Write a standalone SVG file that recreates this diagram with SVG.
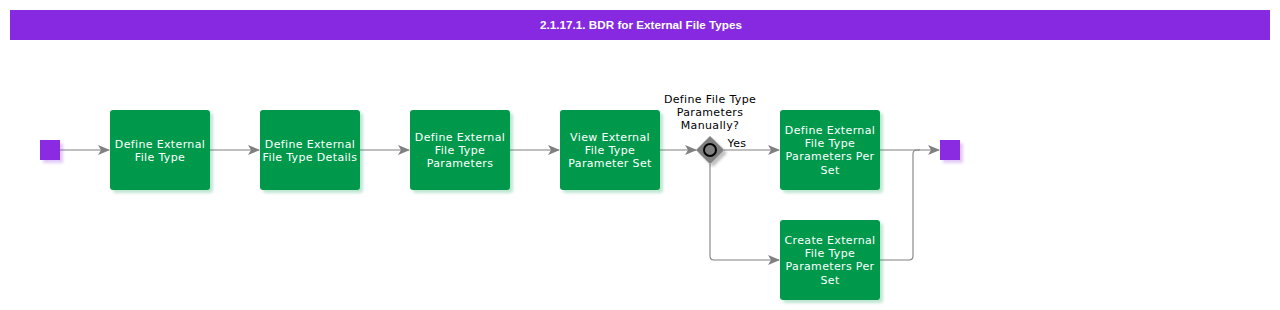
<svg xmlns="http://www.w3.org/2000/svg" width="1280" height="310" viewBox="0 0 1280 310">
<defs>
<style>
.title{font-family:"Liberation Sans",Arial,sans-serif;font-weight:bold;font-size:11.7px;fill:#fff;text-anchor:middle}
.task rect{fill:#00994C}
.task text{font-family:"DejaVu Sans",Verdana,sans-serif;font-size:11px;letter-spacing:0.35px;fill:#fff;text-anchor:middle}
.lbl{font-family:"DejaVu Sans",Verdana,sans-serif;font-size:11px;letter-spacing:0.35px;fill:#000;text-anchor:middle}
.ev rect{fill:#8A2BE2}
.conn path{fill:none;stroke:#808080;stroke-width:1.1}
.shadow{fill:#000;opacity:0.25;filter:url(#blur)}
</style>
<filter id="blur" x="-20%" y="-20%" width="140%" height="140%"><feGaussianBlur stdDeviation="1.5"/></filter>
<marker id="arr" viewBox="0 0 12 10" refX="11" refY="5" markerWidth="12" markerHeight="10" markerUnits="userSpaceOnUse" orient="auto">
<path d="M0,0 L12,5 L0,10 L3,5 Z" fill="#808080"/>
</marker>
</defs>
<rect x="10" y="10" width="1260" height="30" fill="#8629E0"/>
<text class="title" x="641" y="29">2.1.17.1. BDR for External File Types</text>

<g class="conn">
<path d="M60,150 H109" marker-end="url(#arr)"/>
<path d="M210,150 H259" marker-end="url(#arr)"/>
<path d="M360,150 H409" marker-end="url(#arr)"/>
<path d="M510,150 H559" marker-end="url(#arr)"/>
<path d="M660,150 H696" marker-end="url(#arr)"/>
<path d="M724,150 H779" marker-end="url(#arr)"/>
<path d="M710,164 V256 Q710,260 714,260 H779" marker-end="url(#arr)"/>
<path d="M880,150 H939" marker-end="url(#arr)"/>
<path d="M880,260 H909 Q913,260 913,256 V154 Q913,150 917,150 H920"/>
</g>
<text class="lbl" x="737" y="147">Yes</text>

<g id="start" class="ev">
<rect class="shadow" x="43" y="143" width="20" height="20"/>
<rect x="40" y="140" width="20" height="20"/>
</g>
<g id="end" class="ev">
<rect class="shadow" x="943" y="143" width="20" height="20"/>
<rect x="940" y="140" width="20" height="20"/>
</g>

<g id="t1" class="task">
<rect class="shadow" x="113" y="113" width="100" height="80" rx="3"/>
<rect x="110" y="110" width="100" height="80" rx="3"/>
<text x="160" y="148">Define External</text>
<text x="160" y="161">File Type</text>
</g>
<g id="t2" class="task">
<rect class="shadow" x="263" y="113" width="100" height="80" rx="3"/>
<rect x="260" y="110" width="100" height="80" rx="3"/>
<text x="310" y="148">Define External</text>
<text x="310" y="161">File Type Details</text>
</g>
<g id="t3" class="task">
<rect class="shadow" x="413" y="113" width="100" height="80" rx="3"/>
<rect x="410" y="110" width="100" height="80" rx="3"/>
<text x="460" y="141">Define External</text>
<text x="460" y="154">File Type</text>
<text x="460" y="167">Parameters</text>
</g>
<g id="t4" class="task">
<rect class="shadow" x="563" y="113" width="100" height="80" rx="3"/>
<rect x="560" y="110" width="100" height="80" rx="3"/>
<text x="610" y="141">View External</text>
<text x="610" y="154">File Type</text>
<text x="610" y="167">Parameter Set</text>
</g>
<g id="gw">
<path class="shadow" d="M713,139 L727,153 L713,167 L699,153 Z"/>
<path d="M710,136 L724,150 L710,164 L696,150 Z" fill="#808080"/>
<circle cx="710" cy="150" r="6" fill="#808080" stroke="#000" stroke-width="2"/>
<text class="lbl" x="710" y="103">Define File Type</text>
<text class="lbl" x="710" y="116">Parameters</text>
<text class="lbl" x="710" y="129">Manually?</text>
</g>
<g id="t5" class="task">
<rect class="shadow" x="783" y="113" width="100" height="80" rx="3"/>
<rect x="780" y="110" width="100" height="80" rx="3"/>
<text x="830" y="134">Define External</text>
<text x="830" y="147">File Type</text>
<text x="830" y="160">Parameters Per</text>
<text x="830" y="174">Set</text>
</g>
<g id="t6" class="task">
<rect class="shadow" x="783" y="223" width="100" height="80" rx="3"/>
<rect x="780" y="220" width="100" height="80" rx="3"/>
<text x="830" y="244">Create External</text>
<text x="830" y="257">File Type</text>
<text x="830" y="270">Parameters Per</text>
<text x="830" y="284">Set</text>
</g>
</svg>
